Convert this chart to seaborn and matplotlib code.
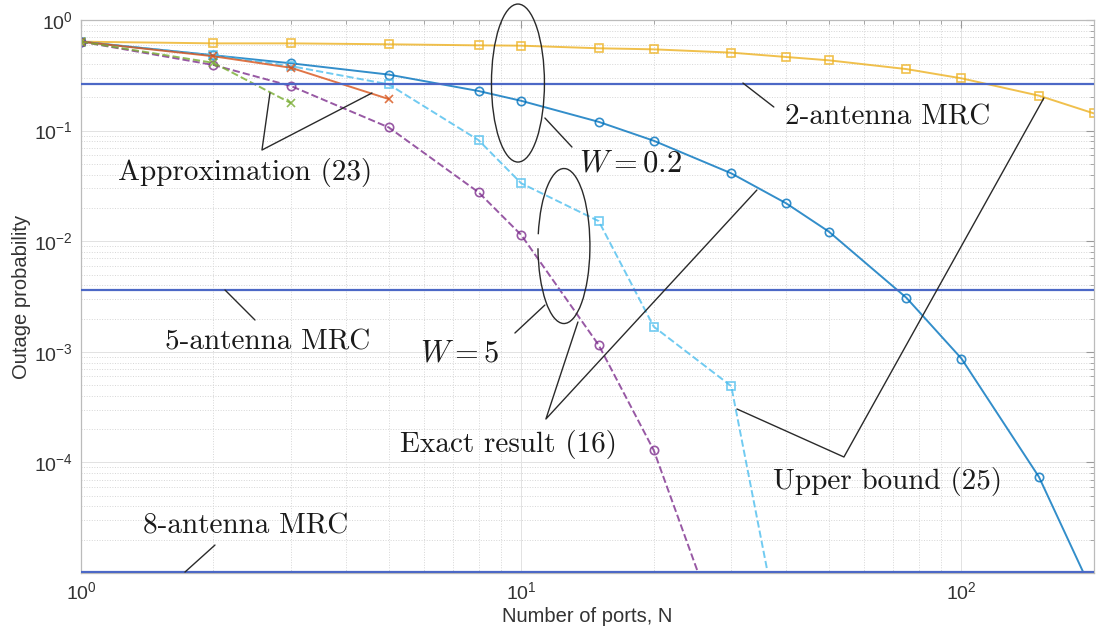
import numpy as np
import pandas as pd
import matplotlib
matplotlib.use("Agg")
import matplotlib.pyplot as plt
import seaborn as sns
from matplotlib.patches import Ellipse, Arc

# ---- data -------------------------------------------------------------
ports = [1, 2, 3, 5, 8, 10, 15, 20, 30, 40, 50, 75, 100, 150, 200]
exact_w02 = [0.637, 0.48, 0.406, 0.321, 0.228, 0.186, 0.120, 0.081, 0.0411,
             0.022, 0.0122, 0.00308, 0.00087, 7.4e-5, 6.3e-6]
bound_w02 = [0.637, 0.615, 0.615, 0.603, 0.59, 0.586, 0.555, 0.543, 0.507,
             0.463, 0.432, 0.36, 0.297, 0.207, 0.143]

ports_w5_bound = [1, 2, 3, 5, 8, 10, 15, 20, 30, 40]
bound_w5 = [0.637, 0.48, 0.383, 0.262, 0.082, 0.0334, 0.0152, 0.00169,
            0.00049, 1.4e-6]

ports_w5_exact = [1, 2, 3, 5, 8, 10, 15, 20, 30]
exact_w5 = [0.637, 0.392, 0.253, 0.107, 0.0277, 0.0114, 0.00115, 0.000129,
            1.5e-6]

ports_approx_w02 = [1, 2, 3, 5]
approx_w02 = [0.637, 0.47, 0.37, 0.193]
ports_approx_w5 = [1, 2, 3]
approx_w5 = [0.637, 0.41, 0.177]

mrc_levels = {"2-antenna MRC": 0.264, "5-antenna MRC": 3.62e-3,
              "8-antenna MRC": 1.02e-5}

x_ticks = [1, 10, 100]
y_ticks = [1e0, 1e-1, 1e-2, 1e-3, 1e-4]

# ---- style ------------------------------------------------------------
sns.set_style("white")
plt.rcParams["font.family"] = ["Liberation Sans", "DejaVu Sans"]
plt.rcParams["mathtext.fontset"] = "cm"

fig = plt.figure(figsize=(10.97, 6.35), dpi=100)
ax = fig.add_axes([0.0738, 0.0976, 0.9234, 0.8709])

series = [
    (ports, bound_w02, "#EDB120", "s", "-"),
    (ports, exact_w02, "#0072BD", "o", "-"),
    (ports_w5_bound, bound_w5, "#4DBEEE", "s", "--"),
    (ports_w5_exact, exact_w5, "#7E2F8E", "o", "--"),
    (ports_approx_w02, approx_w02, "#D95319", "x", "-"),
    (ports_approx_w5, approx_w5, "#77AC30", "x", "--"),
]
for xs, ys, col, mk, ls in series:
    df = pd.DataFrame({"N": xs, "P": ys})
    sns.lineplot(data=df, x="N", y="P", ax=ax, color=col, marker=mk,
                 linestyle=ls, linewidth=1.4, markersize=6,
                 markerfacecolor="none", markeredgecolor=col,
                 markeredgewidth=1.2, alpha=0.8, sort=False)

for name, lvl in mrc_levels.items():
    ax.axhline(lvl, color="#4C68C6", linewidth=1.6, zorder=3)

ax.set_xscale("log")
ax.set_yscale("log")
ax.set_xlim(1, 200)
ax.set_ylim(1e-5, 1)
ax.set_xticks(x_ticks)
ax.set_yticks(y_ticks)

ax.grid(which="major", color="#e2e2e2", linewidth=0.7)
ax.grid(which="minor", color="#d6d6d6", linestyle=":", linewidth=0.7)
ax.tick_params(which="both", direction="in", top=True, right=True,
               color="#999999", labelcolor="#333333", labelsize=14)
ax.tick_params(which="major", length=6, pad=6)
ax.tick_params(which="minor", length=3)
for s in ax.spines.values():
    s.set_color("#bbbbbb")
    s.set_linewidth(0.9)

ax.set_xlabel("Number of ports, N", fontsize=14.5, color="#333333",
              labelpad=3)
ax.set_ylabel("Outage probability", fontsize=14.5, color="#333333",
              labelpad=2)

# ---- annotations (axes-fraction coordinates) ---------------------------
ann_kw = dict(color="#2a2a2a", linewidth=1.0, transform=ax.transAxes,
              clip_on=False, zorder=5)
txt_kw = dict(transform=ax.transAxes, fontsize=21, color="#1a1a1a",
              ha="center", va="center", family="cmr10", zorder=6)

# 2-antenna MRC
ax.plot([0.6535, 0.684], [0.886, 0.8427], **ann_kw)
ax.text(0.7966, 0.8246, "2-antenna MRC", **txt_kw)

# 5-antenna MRC
ax.plot([0.1422, 0.1718], [0.5118, 0.4575], **ann_kw)
ax.text(0.1846, 0.4177, "5-antenna MRC", **txt_kw)

# 8-antenna MRC
ax.plot([0.1027, 0.1323], [0.0018, 0.0506], **ann_kw)
ax.text(0.1629, 0.085, "8-antenna MRC", **txt_kw)

# Upper bound
ax.plot([0.6476, 0.7532, 0.9506], [0.2966, 0.2098, 0.859], **ann_kw)
ax.text(0.7966, 0.1664, "Upper bound (25)", **txt_kw)

# Exact result
ax.plot([0.4906, 0.459, 0.6673], [0.4539, 0.2785, 0.6926], **ann_kw)
ax.text(0.4225, 0.2315, "Exact result (16)", **txt_kw)

# Approximation
ax.plot([0.1866, 0.1787, 0.2873], [0.868, 0.7649, 0.868], **ann_kw)
ax.text(0.1619, 0.7251, "Approximation (23)", **txt_kw)

# W = 0.2 group
ax.add_patch(Ellipse((0.4314, 0.886), 0.0523, 0.2857, fill=False,
                     edgecolor="#2a2a2a", linewidth=1.0, clip_on=False,
                     transform=ax.transAxes, zorder=5))
ax.plot([0.458, 0.4847], [0.8228, 0.7703], **ann_kw)
ax.text(0.542, 0.7414, r"$W = 0.2$", transform=ax.transAxes, fontsize=22,
        color="#1a1a1a", ha="center", va="center", zorder=6)

# W = 5 group
ax.add_patch(Arc((0.4768, 0.5913), 0.0513, 0.2803, theta1=-171, theta2=140,
                 edgecolor="#2a2a2a", linewidth=1.0, clip_on=False,
                 transform=ax.transAxes, zorder=5))
ax.plot([0.458, 0.4284], [0.4846, 0.434], **ann_kw)
ax.text(0.3741, 0.3978, r"$W = 5$", transform=ax.transAxes, fontsize=22,
        color="#1a1a1a", ha="center", va="center", zorder=6)

fig.savefig("out.png", dpi=100)
